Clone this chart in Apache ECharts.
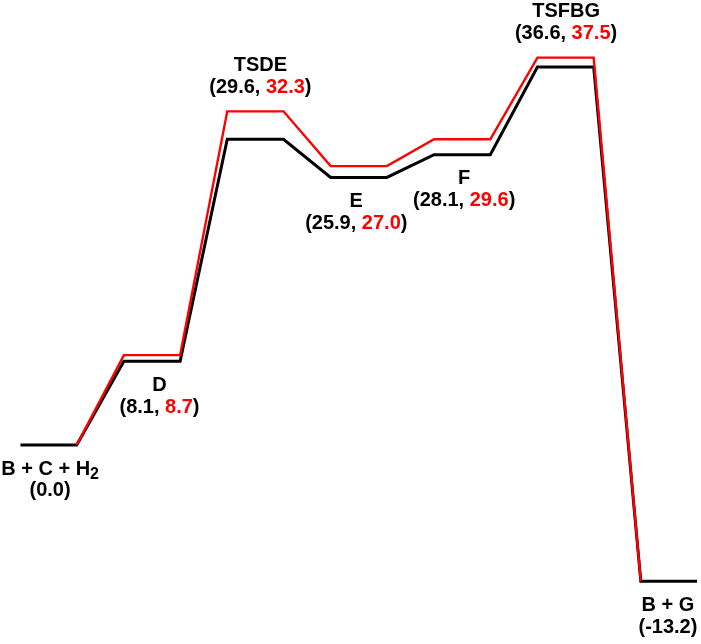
<!DOCTYPE html>
<html><head><meta charset="utf-8">
<script src="https://cdn.jsdelivr.net/npm/echarts@6/dist/echarts.min.js"></script>
<style>html,body{margin:0;padding:0;background:#fff}#c{width:701px;height:644px}</style>
</head><body><div id="c"></div>
<script>
// ---- data ----
const states = ['B + C + H2', 'D', 'TSDE', 'E', 'F', 'TSFBG', 'B + G'];
const energyBlack = [0.0, 8.1, 29.6, 25.9, 28.1, 36.6, -13.2];
const energyRed = [0.0, 8.7, 32.3, 27.0, 29.6, 37.5, -13.2];

// ---- style / layout ----
const HALF = 0.272;                       // half width of a level, in state units
const labelShift = [1.5, 7.5, 5, -2.5, 2, 0.5, -1];   // px
const FONT = '"Liberation Sans", Arial, sans-serif';
const last = states.length - 1;

function levelPoints(vals, trimEnds) {
  const pts = [];
  vals.forEach((v, i) => {
    if (!(trimEnds && i === 0)) pts.push([i - HALF, v]);
    if (!(trimEnds && i === last)) pts.push([i + HALF, v]);
  });
  return pts;
}

function nameText(s) {
  const m = s.match(/^(.*[A-Z])(\d+)$/);
  if (m) return '{n|' + m[1] + '}{sub|' + m[2] + '}';
  return '{n|' + s + '}';
}
function valueText(i) {
  if (i === 0 || i === last) return '{k|(' + energyBlack[i].toFixed(1) + ')}';
  return '{k|(' + energyBlack[i].toFixed(1) + ', }{r|' + energyRed[i].toFixed(1) + '}{k|)}';
}

const base = {fontFamily: FONT, fontWeight: 'bold', fontSize: 20, lineHeight: 21.5, color: '#000',
  textBorderWidth: 0, textShadowBlur: 0, opacity: 1};
const rich = {
  n: Object.assign({}, base),
  sub: Object.assign({}, base, {fontSize: 16, verticalAlign: 'top', padding: [8, 0, 0, 0]}),
  k: Object.assign({}, base),
  r: Object.assign({}, base, {color: '#ff0000'})
};

const labelData = states.map((s, i) => {
  const above = /^TS/.test(s);
  return {
    value: [i, above ? energyRed[i] : energyBlack[i]],
    label: {
      position: above ? 'top' : 'bottom',
      offset: [labelShift[i], 0],
      formatter: nameText(s) + '\n' + valueText(i)
    }
  };
});

const chart = echarts.init(document.getElementById('c'), null, {renderer: 'canvas'});
chart.setOption({
  animation: false,
  backgroundColor: '#fff',
  grid: {left: 0, right: 0, top: 31.8, bottom: 54.4, containLabel: false},
  xAxis: {type: 'value', min: -0.47, max: 6.31, show: false},
  yAxis: {type: 'value', min: -14, max: 40, show: false},
  series: [
    {
      type: 'line', data: levelPoints(energyBlack, false), showSymbol: false, z: 2,
      lineStyle: {color: '#000', width: 3, join: 'miter'}
    },
    {
      type: 'line', data: levelPoints(energyRed, true), showSymbol: false, z: 3,
      lineStyle: {color: '#ff0000', width: 2.4, join: 'miter'}
    },
    {
      type: 'scatter', data: labelData, symbolSize: 1, z: 4,
      itemStyle: {color: 'rgba(0,0,0,0)'},
      label: {show: true, distance: 13, align: 'center', color: '#000', opacity: 1,
        textBorderWidth: 0, rich: rich},
      emphasis: {disabled: true}
    }
  ]
});
</script>
</body></html>
